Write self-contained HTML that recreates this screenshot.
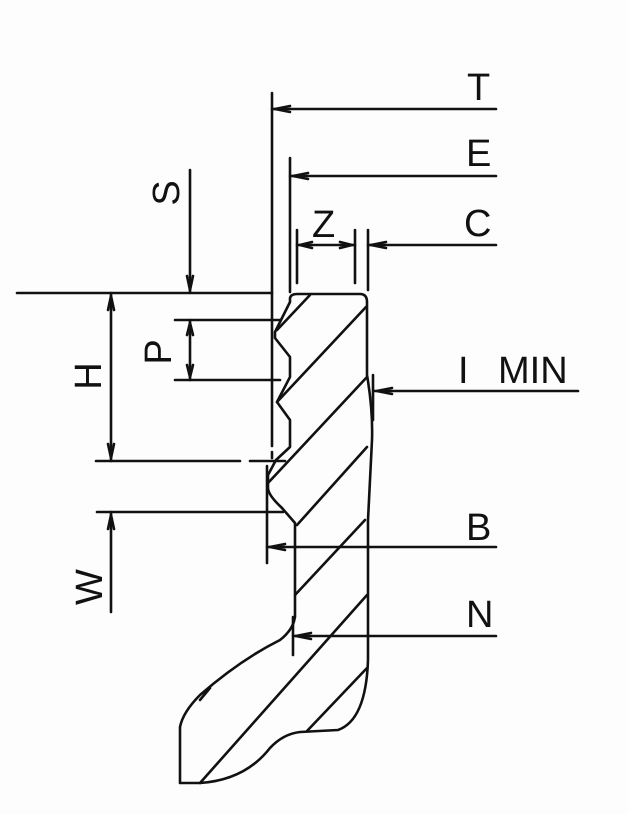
<!DOCTYPE html>
<html><head><meta charset="utf-8"><style>
html,body{margin:0;padding:0;background:#fff;}
svg{display:block;}
text{font-family:"Liberation Sans",sans-serif;font-size:38px;fill:#111;}
</style></head><body>
<svg width="628" height="814" viewBox="0 0 628 814" xmlns="http://www.w3.org/2000/svg">
<rect width="628" height="814" fill="#fdfdfd"/>
<g stroke="#111" stroke-width="2.6" fill="none" stroke-linecap="round" stroke-linejoin="round">
<path d="M297,294 L360,294 Q367,294 367,302 L367,375 Q373,410 372,440 Q370,480 368,520 L368,660 Q366,720 338,730 L300,732 Q283,734 270,748 Q245,780 200,783 L180,783 L180,727 Q183,712 200,695 Q240,660 280,640 Q293,630 295,617 L295,523 L282,508 Q268,495 268,488 L268,475 L276,460 L290,447 L290,420 L277,402 L290,377 L290,357 L275,338 L275,332 L290,302 L290,298 Q291,294 297,294 Z"/>
<path d="M310,295 L277,330"/>
<path d="M366,307 L277,402"/>
<path d="M367,377 L268,483"/>
<path d="M367,447 L297,525"/>
<path d="M365,520 L295,595"/>
<path d="M367,595 L200,783"/>
<path d="M367,668 L307,731"/>
<path d="M272,93 L272,446"/>
<path d="M272,452 L272,458"/>
<path d="M267,466 L267,563"/>
<path d="M290,158 L290,292"/>
<path d="M297,230 L297,283"/>
<path d="M355,230 L355,283"/>
<path d="M368,230 L368,290"/>
<path d="M293,617 L293,655"/>
<path d="M373,375 L373,420"/>
<path d="M272,109 L496,109"/>
<path d="M290,176 L496,176"/>
<path d="M368,245 L496,245"/>
<path d="M297,245 L355,245"/>
<path d="M374,391 L578,391"/>
<path d="M267,547 L496,547"/>
<path d="M293,636 L496,636"/>
<path d="M17,293 L272,293"/>
<path d="M175,320 L280,320"/>
<path d="M175,380 L280,380"/>
<path d="M96,461 L240,461"/>
<path d="M250,461 L285,461"/>
<path d="M97,512 L283,512"/>
<path d="M190,170 L190,292"/>
<path d="M111,293 L111,461"/>
<path d="M190,320 L190,380"/>
<path d="M111,512 L111,612"/>
<path d="M275,109 L290,106 M275,109 L290,112"/>
<path d="M293,176 L308,173 M293,176 L308,179"/>
<path d="M371,245 L386,242 M371,245 L386,248"/>
<path d="M300,245 L312,242 M300,245 L312,248 M352,245 L340,242 M352,245 L340,248"/>
<path d="M377,391 L392,388 M377,391 L392,394"/>
<path d="M270,547 L285,544 M270,547 L285,550"/>
<path d="M296,636 L311,633 M296,636 L311,639"/>
<path d="M190,290 L187,276 M190,290 L193,276"/>
<path d="M111,296 L108,310 M111,296 L114,310 M111,458 L108,444 M111,458 L114,444"/>
<path d="M190,323 L187,335 M190,323 L193,335 M190,377 L187,365 M190,377 L193,365"/>
<path d="M111,515 L108,529 M111,515 L114,529"/>
<path d="M200,700 L210,688"/>
</g>
<text x="467" y="100">T</text>
<text x="466" y="166">E</text>
<text x="464" y="236">C</text>
<text x="312" y="237">Z</text>
<text x="458" y="383">I</text>
<text x="498" y="383">MIN</text>
<text x="466" y="540">B</text>
<text x="466" y="627">N</text>
<text transform="translate(179,193) rotate(-90)" text-anchor="middle">S</text>
<text transform="translate(101,376) rotate(-90)" text-anchor="middle">H</text>
<text transform="translate(171,352) rotate(-90)" text-anchor="middle">P</text>
<text transform="translate(102,587) rotate(-90)" text-anchor="middle">W</text>
</svg>
</body></html>
